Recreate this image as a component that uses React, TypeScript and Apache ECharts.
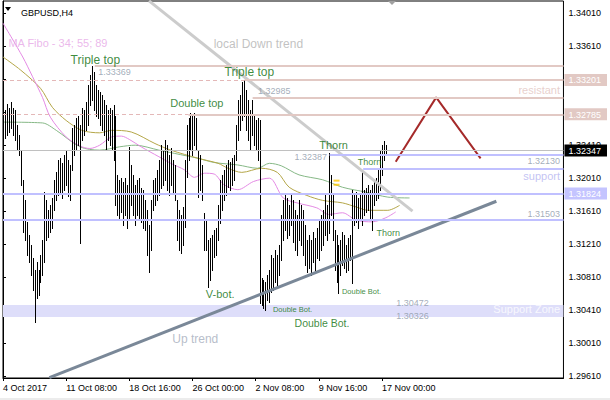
import React, { useEffect, useRef } from "react";
import * as echarts from "echarts";

// ---- axis labels ----
const timeLabels = ["4 Oct 2017", "11 Oct 08:00", "18 Oct 16:00", "26 Oct 00:00", "2 Nov 08:00", "9 Nov 16:00", "17 Nov 00:00"];
const timeLabelIndex = [0, 32, 64, 96, 128, 160, 192];
const priceTicks = [1.2961, 1.3001, 1.3041, 1.3081, 1.3121, 1.3161, 1.3201, 1.3241, 1.3281, 1.3321, 1.3361, 1.3401];
const priceTickLabels = [1.2961, 1.3001, 1.3041, 1.3081, 1.3121, 1.3161, 1.3201, 1.3241, 1.3361, 1.3401];

// ---- H4 bars (high / low) ----
const highs = [
  1.3278, 1.3284, 1.3291, 1.3286, 1.3293, 1.3286, 1.3284, 1.3266, 1.3253, 1.3235,
  1.3199, 1.3174, 1.3148, 1.3132, 1.3120, 1.3104, 1.3090, 1.3099, 1.3090, 1.3108,
  1.3126, 1.3184, 1.3174, 1.3162, 1.3168, 1.3177, 1.3199, 1.3208, 1.3223, 1.3225,
  1.3219, 1.3229, 1.3235, 1.3223, 1.3217, 1.3262, 1.3265, 1.3274, 1.3277, 1.3265,
  1.3286, 1.3284, 1.3293, 1.3314, 1.3326, 1.3337, 1.3330, 1.3314, 1.3308, 1.3305,
  1.3302, 1.3296, 1.3290, 1.3284, 1.3286, 1.3284, 1.3290, 1.3277, 1.3205, 1.3199,
  1.3201, 1.3196, 1.3201, 1.3193, 1.3239, 1.3217, 1.3205, 1.3193, 1.3199, 1.3201,
  1.3189, 1.3187, 1.3174, 1.3162, 1.3144, 1.3174, 1.3199, 1.3201, 1.3211, 1.3223,
  1.3241, 1.3235, 1.3247, 1.3241, 1.3229, 1.3237, 1.3223, 1.3217, 1.3174, 1.3162,
  1.3156, 1.3166, 1.3223, 1.3265, 1.3274, 1.3280, 1.3276, 1.3280, 1.3274, 1.3235,
  1.3229, 1.3217, 1.3159, 1.3150, 1.3126, 1.3128, 1.3132, 1.3138, 1.3140, 1.3168,
  1.3199, 1.3205, 1.3211, 1.3217, 1.3223, 1.3220, 1.3225, 1.3229, 1.3265, 1.3296,
  1.3302, 1.3318, 1.3320, 1.3308, 1.3296, 1.3284, 1.3296, 1.3277, 1.3271, 1.3274,
  1.3271, 1.3080, 1.3077, 1.3075, 1.3083, 1.3090, 1.3108, 1.3104, 1.3114, 1.3108,
  1.3120, 1.3156, 1.3174, 1.3180, 1.3177, 1.3168, 1.3180, 1.3174, 1.3162, 1.3156,
  1.3174, 1.3168, 1.3162, 1.3144, 1.3126, 1.3132, 1.3126, 1.3136, 1.3128, 1.3140,
  1.3150, 1.3156, 1.3162, 1.3180, 1.3168, 1.3231, 1.3205, 1.3180, 1.3138, 1.3132,
  1.3120, 1.3126, 1.3136, 1.3132, 1.3120, 1.3128, 1.3132, 1.3187, 1.3180, 1.3184,
  1.3177, 1.3180, 1.3211, 1.3187, 1.3189, 1.3193, 1.3187, 1.3193, 1.3199, 1.3201,
  1.3211, 1.3235, 1.3241, 1.3246, 1.3241,
];
const lows = [
  1.3235, 1.3250, 1.3253, 1.3257, 1.3262, 1.3253, 1.3247, 1.3235, 1.3229, 1.3193,
  1.3136, 1.3126, 1.3108, 1.3099, 1.3083, 1.3065, 1.3027, 1.3056, 1.3059, 1.3075,
  1.3083, 1.3099, 1.3126, 1.3130, 1.3136, 1.3140, 1.3162, 1.3174, 1.3180, 1.3184,
  1.3177, 1.3187, 1.3193, 1.3179, 1.3174, 1.3211, 1.3229, 1.3235, 1.3241, 1.3122,
  1.3247, 1.3253, 1.3259, 1.3265, 1.3290, 1.3296, 1.3284, 1.3277, 1.3274, 1.3265,
  1.3259, 1.3253, 1.3235, 1.3247, 1.3241, 1.3235, 1.3223, 1.3168, 1.3156, 1.3150,
  1.3160, 1.3144, 1.3156, 1.3140, 1.3150, 1.3168, 1.3156, 1.3144, 1.3156, 1.3150,
  1.3148, 1.3140, 1.3138, 1.3108, 1.3087, 1.3114, 1.3162, 1.3168, 1.3174, 1.3180,
  1.3189, 1.3193, 1.3199, 1.3187, 1.3180, 1.3193, 1.3184, 1.3174, 1.3126, 1.3114,
  1.3110, 1.3120, 1.3142, 1.3202, 1.3223, 1.3235, 1.3229, 1.3241, 1.3235, 1.3178,
  1.3187, 1.3174, 1.3114, 1.3114, 1.3069, 1.3077, 1.3089, 1.3105, 1.3108, 1.3126,
  1.3146, 1.3162, 1.3174, 1.3180, 1.3190, 1.3187, 1.3193, 1.3199, 1.3223, 1.3247,
  1.3259, 1.3271, 1.3277, 1.3259, 1.3247, 1.3235, 1.3253, 1.3241, 1.3235, 1.3223,
  1.3050, 1.3047, 1.3043, 1.3041, 1.3053, 1.3051, 1.3063, 1.3065, 1.3075, 1.3071,
  1.3083, 1.3102, 1.3126, 1.3138, 1.3128, 1.3132, 1.3144, 1.3123, 1.3114, 1.3108,
  1.3126, 1.3120, 1.3108, 1.3096, 1.3087, 1.3092, 1.3083, 1.3099, 1.3090, 1.3104,
  1.3102, 1.3114, 1.3120, 1.3132, 1.3126, 1.3134, 1.3156, 1.3126, 1.3090, 1.3075,
  1.3062, 1.3083, 1.3096, 1.3092, 1.3087, 1.3090, 1.3102, 1.3074, 1.3144, 1.3148,
  1.3140, 1.3150, 1.3144, 1.3156, 1.3160, 1.3162, 1.3153, 1.3138, 1.3168, 1.3174,
  1.3177, 1.3187, 1.3205, 1.3223, 1.3229,
];

// ---- MA Fibo 34 / 55 / 89 (bar index, price) ----
const maFast = [[0,1.3389],[10,1.3348],[15,1.3324],[20,1.3299],[24,1.3275],[32,1.3251],[39,1.3240],[44,1.3237],[49,1.3241],[55,1.3251],[60,1.3252],[64,1.3248],[70,1.3239],[79,1.3227],[85,1.3219],[92,1.3211],[97,1.3202],[102,1.3207],[107,1.3206],[112,1.3193],[119,1.3187],[127,1.3197],[135,1.3201],[142,1.3177],[149,1.3171],[159,1.3165],[165,1.3157],[172,1.3159],[179,1.3150],[187,1.3148],[194,1.3153],[199,1.3160]];
const maMid = [[0,1.3348],[9,1.3332],[19,1.3310],[25,1.3287],[32,1.3271],[40,1.3259],[49,1.3256],[55,1.3259],[65,1.3257],[77,1.3243],[85,1.3235],[99,1.3225],[109,1.3219],[114,1.3213],[121,1.3208],[131,1.3213],[139,1.3208],[145,1.3190],[154,1.3180],[162,1.3174],[172,1.3171],[179,1.3166],[185,1.3162],[195,1.3162],[201,1.3168]];
const maSlow = [[0,1.3269],[20,1.3268],[27,1.3259],[39,1.3239],[49,1.3235],[59,1.3239],[67,1.3241],[79,1.3235],[87,1.3231],[99,1.3225],[107,1.3220],[119,1.3217],[129,1.3213],[135,1.3219],[141,1.3216],[150,1.3205],[162,1.3199],[172,1.3190],[184,1.3184],[195,1.3178],[206,1.3177]];

// ---- levels & trend lines ----
const resistLevels = [1.33369, 1.33201, 1.32985, 1.32785];
const resistFrom = [46.5, 122.5, 126.5, 94];
const dashedLevels = [1.33201, 1.32785];
const dashedTo = [122.5, 94];
const supportLevels = [1.3230, 1.3213, 1.31824, 1.31503];
const supportFrom = [165.5, 182.5, 0, 0];
const supportZone = [1.30326, 1.30472];
const lastPrice = 1.32347;
const axisHighlightRes = [1.33201, 1.32785];
const axisHighlightSup = [1.31824];
const downTrend = [[74, 1.3416], [207.5, 1.3161]];
const upTrend = [[23.5, 1.2959], [250, 1.3173]];
const projection = [[199, 1.3221], [219.5, 1.3299], [242, 1.3225]];
const signalMarks = [[169, 1.3198], [169, 1.3193]];
const xEnd = 284;

const FONT = "'Liberation Sans', Arial, sans-serif";
const GREEN = "#0a6e0a";
const PRICE_GRAY = "#8c98a8";

type Ann = { text: string; at: [number, number]; size: number; color: string; side: "left" | "right" };
const annotations: Ann[] = [
  { text: "Triple top", at: [34, 1.3344], size: 12, color: GREEN, side: "right" },
  { text: "Triple top", at: [112, 1.3330], size: 12, color: GREEN, side: "right" },
  { text: "Double top", at: [84.5, 1.3292], size: 11, color: GREEN, side: "right" },
  { text: "Thorn", at: [160, 1.3241], size: 11, color: GREEN, side: "right" },
  { text: "Thorn", at: [179.5, 1.3221], size: 9, color: GREEN, side: "right" },
  { text: "Thorn", at: [189, 1.3134], size: 9, color: GREEN, side: "right" },
  { text: "V-bot.", at: [102.5, 1.3061], size: 11, color: GREEN, side: "right" },
  { text: "Double Bot.", at: [136.5, 1.3042], size: 7.5, color: GREEN, side: "right" },
  { text: "Double Bot.", at: [171.5, 1.3064], size: 7.5, color: GREEN, side: "right" },
  { text: "Double Bot.", at: [147.5, 1.3025], size: 10.5, color: GREEN, side: "right" },
  { text: "local Down trend", at: [106.5, 1.3364], size: 12, color: "#b2b2b2", side: "right" },
  { text: "Up trend", at: [85.5, 1.3006], size: 12, color: "#a4acbc", side: "right" },
  { text: "MA Fibo - 34; 55; 89", at: [2.5, 1.3365], size: 11, color: "#e6a6e6", side: "right" },
  { text: "1.33369", at: [48, 1.3330], size: 9, color: PRICE_GRAY, side: "right" },
  { text: "1.32985", at: [129, 1.3307], size: 9, color: PRICE_GRAY, side: "right" },
  { text: "1.32387", at: [164.5, 1.3227], size: 9, color: PRICE_GRAY, side: "left" },
  { text: "1.32130", at: [282.5, 1.3222], size: 9, color: PRICE_GRAY, side: "left" },
  { text: "1.31503", at: [282.5, 1.3157], size: 9, color: PRICE_GRAY, side: "left" },
  { text: "1.30472", at: [199, 1.3050], size: 9, color: PRICE_GRAY, side: "right" },
  { text: "1.30326", at: [199, 1.3034], size: 9, color: PRICE_GRAY, side: "right" },
  { text: "resistant", at: [282.5, 1.3308], size: 11, color: "#e2c4c0", side: "left" },
  { text: "support", at: [282.5, 1.3204], size: 11, color: "#b4b4f0", side: "left" },
  { text: "Support Zone", at: [282.5, 1.3042], size: 11, color: "#ffffff", side: "left" },
];

const near = (a: number, list: number[]) => list.some((b) => Math.abs(a - b) < 1e-7);

export default function App() {
  const ref = useRef<HTMLDivElement>(null);
  useEffect(() => {
    if (!ref.current) return;
    const chart = echarts.init(ref.current, null, { renderer: "svg" });

    const resistLines = resistLevels.map((p, k) => [{ coord: [resistFrom[k], p] }, { coord: [xEnd, p] }]);
    const dashedLines = dashedLevels.map((p, k) => [{ coord: [0, p] }, { coord: [dashedTo[k], p] }]);
    const supportLines = supportLevels.map((p, k) => [{ coord: [supportFrom[k], p] }, { coord: [xEnd, p] }]);

    const option: any = {
      animation: false,
      backgroundColor: "#ffffff",
      title: {
        text: "GBPUSD,H4",
        left: 16,
        top: 3,
        textStyle: { fontSize: 9, fontWeight: "normal", color: "#000", fontFamily: FONT },
      },
      graphic: [
        { type: "polygon", shape: { points: [[5, 7], [11, 7], [8, 11]] }, style: { fill: "#000" } },
        { type: "polygon", shape: { points: [[388, 1], [396, 1], [392, 5]] }, style: { fill: "#a0a0a0" } },
        { type: "rect", shape: { x: 0, y: 398, width: 610, height: 2 }, style: { fill: "#ececec" } },
      ],
      grid: { left: 2, right: 40, top: 1, bottom: 22, show: true, borderColor: "#000", borderWidth: 1, backgroundColor: "#fff" },
      xAxis: {
        type: "value",
        min: 0,
        max: xEnd,
        axisLine: { show: true, lineStyle: { color: "#000" } },
        splitLine: { show: false },
        axisTick: { show: true, customValues: timeLabelIndex, length: 3, lineStyle: { color: "#000" } },
        axisLabel: {
          customValues: timeLabelIndex,
          formatter: (v: number) => {
            const k = timeLabelIndex.indexOf(Math.round(v));
            return k >= 0 ? timeLabels[k] : "";
          },
          align: "left",
          margin: 5,
          fontSize: 9,
          color: "#000",
          fontFamily: FONT,
        },
      },
      yAxis: {
        type: "value",
        position: "right",
        min: 1.295856,
        max: 1.341592,
        scale: true,
        axisLine: { show: true, lineStyle: { color: "#000" } },
        splitLine: { show: false },
        axisTick: { show: true, customValues: priceTicks, length: 3, lineStyle: { color: "#000" } },
        axisLabel: {
          customValues: [...priceTickLabels, ...axisHighlightRes, ...axisHighlightSup, lastPrice],
          margin: 1,
          fontSize: 9,
          fontFamily: FONT,
          color: "#000",
          formatter: (v: number) => {
            const s = v.toFixed(5);
            if (Math.abs(v - lastPrice) < 1e-7) return `{cur|${s}}`;
            if (near(v, axisHighlightRes)) return `{res|${s}}`;
            if (near(v, axisHighlightSup)) return `{sup|${s}}`;
            return `{n|${s}}`;
          },
          rich: {
            n: { fontSize: 9, fontFamily: FONT, color: "#000", padding: [0, 0, 0, 4] },
            res: { fontSize: 9, fontFamily: FONT, color: "#fff", backgroundColor: "#e2c9c4", padding: [2, 6, 1, 4] },
            sup: { fontSize: 9, fontFamily: FONT, color: "#fff", backgroundColor: "#c4c4ff", padding: [2, 6, 1, 4] },
            cur: { fontSize: 9, fontFamily: FONT, color: "#fff", backgroundColor: "#000", padding: [2, 6, 1, 4] },
          },
        },
      },
      series: [
        {
          type: "line",
          name: "levels",
          data: [],
          z: 1,
          silent: true,
          markArea: {
            silent: true,
            itemStyle: { color: "#dedefa" },
            data: [[{ yAxis: supportZone[0] }, { yAxis: supportZone[1] }]],
          },
          markLine: {
            silent: true,
            symbol: ["none", "none"],
            label: { show: false },
            data: [
              ...dashedLines.map((d) => [
                { ...d[0], lineStyle: { color: "#e4b8b8", width: 1, type: [4, 3] } },
                d[1],
              ]),
              ...resistLines.map((d) => [{ ...d[0], lineStyle: { color: "#e2c9c4", width: 2, type: "solid" } }, d[1]]),
              ...supportLines.map((d) => [{ ...d[0], lineStyle: { color: "#c0c0ff", width: 2, type: "solid" } }, d[1]]),
              [
                { coord: [0, lastPrice], lineStyle: { color: "#c0c0c0", width: 1, type: "solid" } },
                { coord: [xEnd, lastPrice] },
              ],
            ],
          },
        },
        {
          type: "line",
          name: "MA 89",
          data: maSlow,
          showSymbol: false,
          smooth: 0.3,
          z: 2,
          lineStyle: { color: "#86b886", width: 1 },
        },
        {
          type: "line",
          name: "MA 55",
          data: maMid,
          showSymbol: false,
          smooth: 0.3,
          z: 2,
          lineStyle: { color: "#b4a648", width: 1 },
        },
        {
          type: "line",
          name: "MA 34",
          data: maFast,
          showSymbol: false,
          smooth: 0.3,
          z: 2,
          lineStyle: { color: "#e48ae4", width: 1 },
        },
        {
          type: "custom",
          name: "GBPUSD",
          z: 3,
          data: highs.map((h, i) => [i, h, lows[i]]),
          encode: { x: 0, y: [1, 2] },
          renderItem: (_p: any, api: any) => {
            const hi = api.coord([api.value(0), api.value(1)]);
            const lo = api.coord([api.value(0), api.value(2)]);
            const x = Math.round(hi[0]) + 0.5;
            return {
              type: "line",
              shape: { x1: x, y1: Math.round(hi[1]), x2: x, y2: Math.round(lo[1]) + 1 },
              style: { stroke: "#000", lineWidth: 1 },
            };
          },
        },
        {
          type: "line",
          name: "down trend",
          data: downTrend,
          showSymbol: false,
          z: 4,
          lineStyle: { color: "#cccccc", width: 3 },
        },
        {
          type: "line",
          name: "up trend",
          data: upTrend,
          showSymbol: false,
          z: 4,
          lineStyle: { color: "#7a8898", width: 3 },
        },
        {
          type: "line",
          name: "projection",
          data: projection,
          showSymbol: false,
          z: 4,
          lineStyle: { color: "#a52a2a", width: 2 },
        },
        {
          type: "scatter",
          name: "signal",
          data: signalMarks,
          symbol: "rect",
          symbolSize: [6, 2],
          z: 5,
          itemStyle: { color: "#ffc800" },
        },
        {
          type: "scatter",
          name: "annotations",
          z: 6,
          symbolSize: 1,
          itemStyle: { color: "rgba(0,0,0,0)" },
          data: annotations.map((a) => ({
            value: a.at,
            label: {
              show: true,
              formatter: a.text,
              position: a.side,
              distance: 0,
              fontSize: a.size,
              color: a.color,
              fontFamily: FONT,
            },
          })),
        },
      ],
    };
    chart.setOption(option);
    return () => chart.dispose();
  }, []);

  return (
    <div
      ref={ref}
      style={{ position: "fixed", left: 0, top: 0, width: 610, height: 400, background: "#fff" }}
    />
  );
}
